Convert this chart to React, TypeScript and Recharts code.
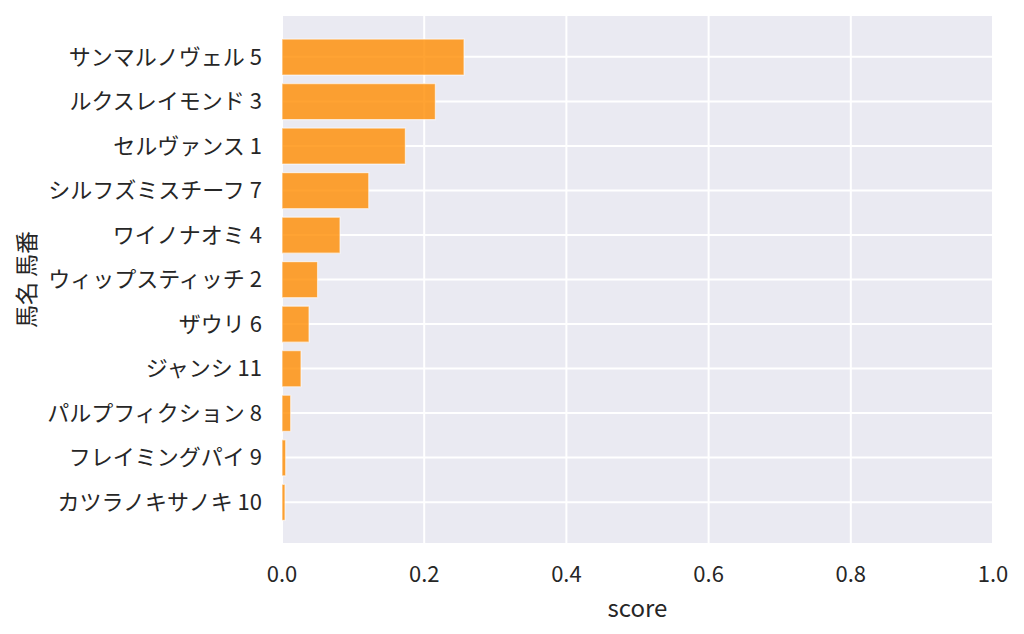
import React from 'react';
import { BarChart, Bar, XAxis, YAxis, CartesianGrid, Label } from 'recharts';

const horseNames = [
  'サンマルノヴェル 5',
  'ルクスレイモンド 3',
  'セルヴァンス 1',
  'シルフズミスチーフ 7',
  'ワイノナオミ 4',
  'ウィップスティッチ 2',
  'ザウリ 6',
  'ジャンシ 11',
  'パルプフィクション 8',
  'フレイミングパイ 9',
  'カツラノキサノキ 10',
];

const scores = [0.256, 0.2157, 0.1735, 0.122, 0.0816, 0.05, 0.038, 0.0267, 0.0122, 0.0052, 0.0042];

const xTicks = [0, 0.2, 0.4, 0.6, 0.8, 1.0];

const data = horseNames.map((name, i) => ({ name, score: scores[i] }));

const FONT = '"Noto Sans CJK JP", "Noto Sans", sans-serif';
const TEXT = '#262626';

export default function App() {
  return (
    <div style={{ position: 'fixed', left: 0, top: 0, width: 1024, height: 634, background: '#fff' }}>
      <BarChart
        width={1024}
        height={634}
        data={data}
        layout="vertical"
        margin={{ top: 15, right: 31, bottom: 0, left: 0 }}
        barCategoryGap="10%"
      >
        <CartesianGrid fill="#eaeaf2" stroke="#ffffff" strokeWidth={2} />
        <XAxis
          type="number"
          domain={[0, 1]}
          ticks={xTicks}
          tickFormatter={(v: number) => v.toFixed(1)}
          axisLine={false}
          tickLine={false}
          tickSize={0}
          tickMargin={22}
          height={90}
          tick={{ fill: TEXT, fontSize: 22, fontFamily: FONT }}
        >
          <Label
            content={(props: any) => {
              const vb = props.viewBox;
              return (
                <text
                  x={vb.x + vb.width / 2}
                  y={606}
                  textAnchor="middle"
                  dominantBaseline="central"
                  fill={TEXT}
                  fontSize={24}
                  fontFamily={FONT}
                >
                  score
                </text>
              );
            }}
          />
        </XAxis>
        <YAxis
          type="category"
          dataKey="name"
          width={282}
          axisLine={false}
          tickLine={false}
          tickSize={0}
          tickMargin={20}
          interval={0}
          padding={{ top: 19.6, bottom: 19.6 }}
          tick={{ fill: TEXT, fontSize: 22, fontFamily: FONT }}
        >
          <Label
            content={(props: any) => {
              const vb = props.viewBox;
              const cx = 25;
              const cy = vb.y + vb.height / 2;
              return (
                <text
                  x={cx}
                  y={cy}
                  transform={`rotate(-90 ${cx} ${cy})`}
                  textAnchor="middle"
                  dominantBaseline="central"
                  fill={TEXT}
                  fontSize={23}
                  fontFamily={FONT}
                >
                  馬名 馬番
                </text>
              );
            }}
          />
        </YAxis>
        <Bar
          dataKey="score"
          fill="#ff8c00"
          fillOpacity={0.8}
          stroke="#ffffff"
          strokeOpacity={0.6}
          strokeWidth={1.2}
          isAnimationActive={false}
        />
      </BarChart>
    </div>
  );
}
